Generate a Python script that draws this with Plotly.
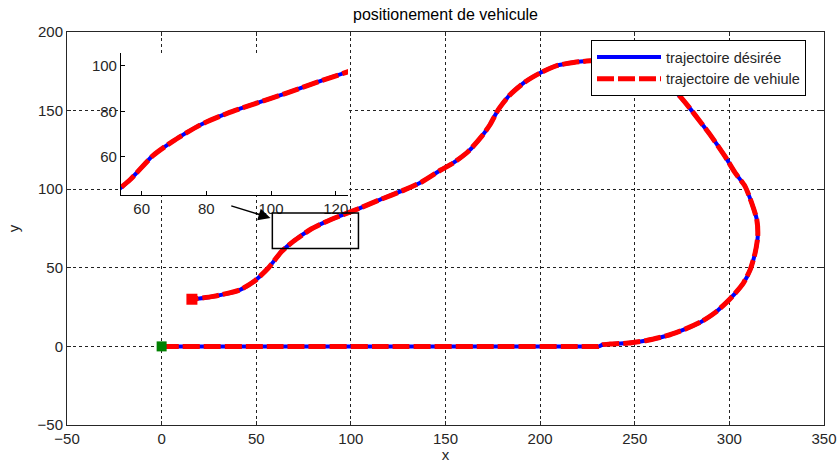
import plotly.graph_objects as go

# Trajectory points (x, y) read along the path, from the origin to the end point
path_x = [0, 60, 120, 180, 222, 231, 233, 237, 246.6, 256.3, 266.9, 276.6, 285.4, 293.3,
          300.8, 307.4, 311.0, 313.6, 315.0, 314.5, 311.8, 308.3, 303.0, 297.7, 289.8,
          284.5, 278.3, 273.0, 266.9, 262, 255, 245, 235, 224.6, 215.8, 208.8, 199.9,
          192.0, 184.1, 177.9, 173.5, 169.1, 162.0, 154.1, 147.5, 137.4, 128.6, 114.5,
          104.8, 96.0, 87.2, 78.4, 69.6, 63.4, 56.4, 49.3, 41.4, 27.3, 16]
path_y = [0, 0, 0, 0, 0, 0, 1.1, 1.5, 2.1, 3.8, 6.8, 11.0, 15.9, 22.3,
          30.8, 40.3, 48.8, 59.4, 70.0, 80.6, 91.2, 101.8, 110.5, 120.9, 134.7,
          143.1, 152.7, 160.1, 165.4, 169, 174, 179.5, 182, 181.5, 180.3, 178.6, 173.9,
          168.2, 160.1, 150.6, 141.0, 133.6, 124.0, 116.7, 112.2, 104.6, 99.7, 92.9,
          88.0, 83.8, 79.5, 74.2, 66.8, 60.4, 49.9, 41.8, 36.0, 31.8, 30]

# Start and end markers
start_x, start_y = [0], [0]
end_x, end_y = [16], [30]

# Axis ticks
x_ticks = [-50, 0, 50, 100, 150, 200, 250, 300, 350]
y_ticks = [-50, 0, 50, 100, 150, 200]
inset_x_ticks = [60, 80, 100, 120]
inset_y_ticks = [60, 80, 100]

# Zoomed region marked on the main plot, and its arrow
box_x = [58.5, 104.0]
box_y = [62.2, 84.9]
arrow_tail = [36.0, 89.7]
arrow_head = [57.5, 81.7]

FONT = "Liberation Sans, Arial, sans-serif"
TXT = "#262626"
BLUE = "#0000ff"
RED = "#ff0000"
DASH = "17px,4px"
SMOOTH = 0.6

fig = go.Figure()

# Main view
fig.add_trace(go.Scatter(x=path_x, y=path_y, mode="lines", name="trajectoire désirée",
                         line=dict(color=BLUE, width=4, shape="spline", smoothing=SMOOTH)))
fig.add_trace(go.Scatter(x=path_x, y=path_y, mode="lines", name="trajectoire de vehiule",
                         line=dict(color=RED, width=5, dash=DASH, shape="spline", smoothing=SMOOTH)))
fig.add_trace(go.Scatter(x=start_x, y=start_y, mode="markers", showlegend=False,
                         marker=dict(symbol="square", size=10, color="#008000")))
fig.add_trace(go.Scatter(x=end_x, y=end_y, mode="markers", showlegend=False,
                         marker=dict(symbol="square", size=11, color=RED)))

# Inset view
fig.add_trace(go.Scatter(x=path_x, y=path_y, mode="lines", showlegend=False,
                         xaxis="x2", yaxis="y2",
                         line=dict(color=BLUE, width=4, shape="spline", smoothing=SMOOTH)))
fig.add_trace(go.Scatter(x=path_x, y=path_y, mode="lines", showlegend=False,
                         xaxis="x2", yaxis="y2",
                         line=dict(color=RED, width=5, dash=DASH, shape="spline", smoothing=SMOOTH)))

axis_common = dict(
    showline=True, linecolor=TXT, linewidth=1, mirror="ticks",
    ticks="inside", ticklen=4, tickcolor=TXT,
    showgrid=True, gridcolor="#222222", gridwidth=1, griddash="dot",
    zeroline=False, automargin=False,
    tickfont=dict(family=FONT, size=15, color=TXT),
)
inset_common = dict(
    showline=True, linecolor="#000", linewidth=1, mirror=False,
    ticks="inside", ticklen=4, tickcolor="#000",
    showgrid=False, zeroline=False, automargin=False,
    tickfont=dict(family=FONT, size=15, color=TXT),
)

fig.update_layout(
    width=838, height=463,
    margin=dict(l=67, r=14, t=32, b=38, autoexpand=False),
    paper_bgcolor="white", plot_bgcolor="white",
    font=dict(family=FONT, color=TXT),
    title=dict(text="positionement de vehicule", x=0.5, xref="paper", xanchor="center",
               y=1 - 14 / 463, yanchor="middle",
               font=dict(family=FONT, size=16, color="#000")),
    xaxis=dict(range=[-50, 350], tickvals=x_ticks, domain=[0, 1],
               title=dict(text="x", font=dict(family=FONT, size=15, color=TXT), standoff=2),
               **axis_common),
    yaxis=dict(range=[-50, 200], tickvals=y_ticks, domain=[0, 1],
               title=dict(text="y", font=dict(family=FONT, size=15, color=TXT), standoff=14),
               **axis_common),
    xaxis2=dict(domain=[0.0713, 0.3712], anchor="y2", range=[53.6, 123.8],
                tickvals=inset_x_ticks, **inset_common),
    yaxis2=dict(domain=[0.5852, 0.9466], anchor="x2", range=[43.2, 105.6],
                tickvals=inset_y_ticks, **inset_common),
    legend=dict(x=(591 - 67) / 757, y=(425 - 40) / 393, xanchor="left", yanchor="top",
                bgcolor="white", bordercolor="#000", borderwidth=1,
                font=dict(family=FONT, size=14.5, color=TXT), itemwidth=64,
                tracegroupgap=0),
    shapes=[dict(type="rect", xref="x", yref="y", x0=box_x[0], x1=box_x[1],
                 y0=box_y[0], y1=box_y[1], line=dict(color="#000", width=1.5), layer="above")],
    annotations=[dict(x=arrow_head[0], y=arrow_head[1], xref="x", yref="y",
                      ax=arrow_tail[0], ay=arrow_tail[1], axref="x", ayref="y",
                      text="", showarrow=True, arrowhead=2, arrowsize=1.6,
                      arrowwidth=1.5, arrowcolor="#000")],
)

fig.write_html("out.html")
